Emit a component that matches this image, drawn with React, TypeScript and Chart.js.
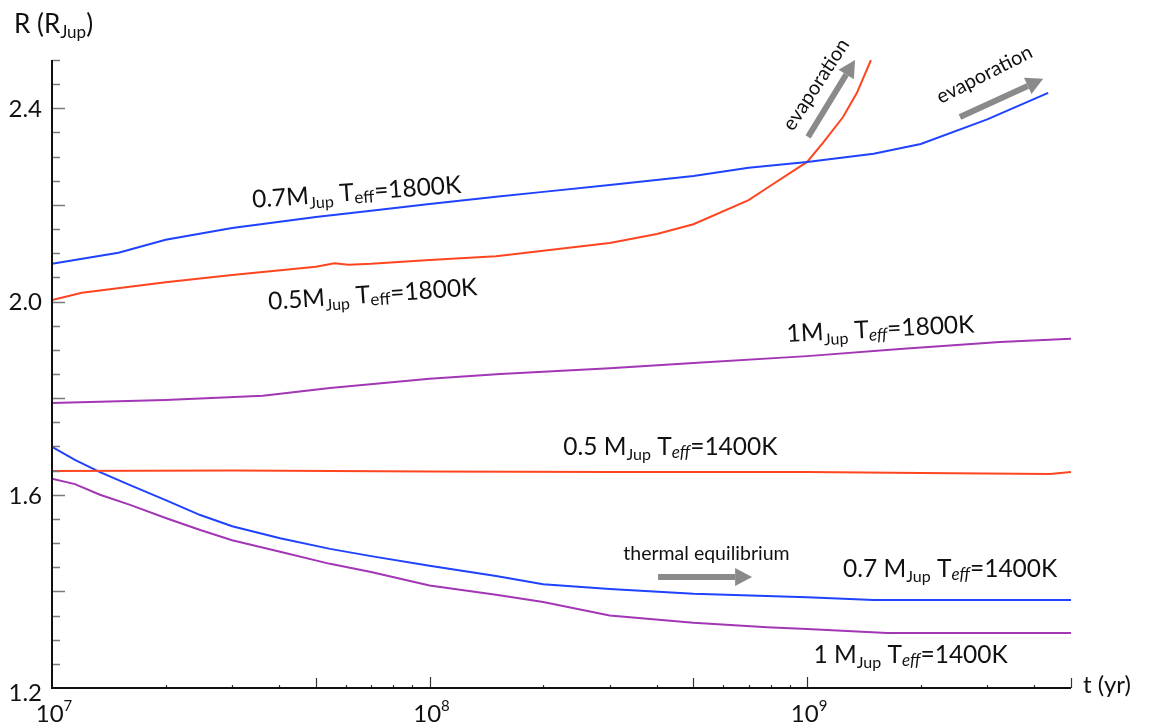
import React, { useEffect, useRef } from "react";
import { Chart, registerables } from "chart.js";

Chart.register(...registerables);

// ---------- data (t in yr, R in R_Jup) ----------
const T_07_1800 = [1e7, 1.5e7, 2e7, 3e7, 5e7, 7e7, 1e8, 1.5e8, 2e8, 3e8, 5e8, 7e8, 1e9, 1.5e9, 2e9, 3e9, 4.35e9];
const R_07_1800 = [2.078, 2.101, 2.128, 2.152, 2.175, 2.188, 2.202, 2.217, 2.227, 2.241, 2.26, 2.277, 2.289, 2.306, 2.326, 2.377, 2.432];

const T_05_1800 = [1e7, 1.2e7, 2e7, 3e7, 5e7, 5.6e7, 6.1e7, 7e7, 1e8, 1.5e8, 2e8, 3e8, 4e8, 5e8, 7e8, 7.83e8, 1e9, 1.1e9, 1.245e9, 1.355e9, 1.476e9];
const R_05_1800 = [2.003, 2.018, 2.04, 2.055, 2.072, 2.079, 2.076, 2.078, 2.086, 2.094, 2.105, 2.121, 2.14, 2.16, 2.21, 2.235, 2.289, 2.328, 2.382, 2.432, 2.5];

const T_1_1800 = [1e7, 2e7, 3.62e7, 5.45e7, 1e8, 1.54e8, 3e8, 5e8, 1e9, 1.76e9, 3.24e9, 5e9];
const R_1_1800 = [1.79, 1.796, 1.805, 1.821, 1.84, 1.85, 1.862, 1.873, 1.887, 1.902, 1.916, 1.923];

const T_05_1400 = [1e7, 3e7, 1e8, 3e8, 1e9, 2e9, 4.4e9, 5e9];
const R_05_1400 = [1.649, 1.65, 1.648, 1.647, 1.647, 1.645, 1.643, 1.647];

const T_07_1400 = [1e7, 1.15e7, 1.34e7, 1.61e7, 2e7, 2.47e7, 3e7, 4.02e7, 5.45e7, 7e7, 1e8, 1.5e8, 2e8, 3e8, 5e8, 1e9, 1.5e9, 5e9];
const R_07_1400 = [1.699, 1.672, 1.647, 1.62, 1.589, 1.558, 1.535, 1.51, 1.488, 1.473, 1.453, 1.432, 1.415, 1.405, 1.395, 1.388, 1.382, 1.382];

const T_1_1400 = [1e7, 1.15e7, 1.34e7, 1.61e7, 2e7, 2.47e7, 3e7, 4.02e7, 5.45e7, 7e7, 1e8, 1.5e8, 2e8, 3e8, 5e8, 7.83e8, 1e9, 1.63e9, 5e9];
const R_1_1400 = [1.633, 1.622, 1.6, 1.579, 1.552, 1.527, 1.506, 1.482, 1.457, 1.44, 1.412, 1.393, 1.378, 1.35, 1.335, 1.326, 1.322, 1.314, 1.314];

const Y_TICK_VALUES = [1.2, 1.6, 2.0, 2.4];
const Y_TICK_LABELS = ["1.2", "1.6", "2.0", "2.4"];
const X_TICK_EXPONENTS = [7, 8, 9];

const X_MIN = 1e7;
const X_MAX = 5e9;
const Y_MIN = 1.2;
const Y_MAX = 2.5;

// curve labels: mass, temperature, anchor (t, R), rotation (deg), italic "eff"
const LABEL_MASS = ["0.7", "0.5", "1", "0.5 ", "0.7 ", "1 "];
const LABEL_TEMP = ["1800K", "1800K", "1800K", "1400K", "1400K", "1400K"];
const LABEL_T = [3.4e7, 3.75e7, 8.85e8, 2.26e8, 1.245e9, 1.04e9];
const LABEL_R = [2.194, 1.983, 1.916, 1.682, 1.43, 1.252];
const LABEL_ANGLE = [-4.1, -4, -3, 0, 0, 0];
const LABEL_ITALIC = [false, false, true, true, true, true];

const BLUE = "#1f42ff";
const RED = "#ff4520";
const PURPLE = "#a236b4";
const GRAY = "#8a8a8a";
const FONT = "Lato, 'Open Sans', sans-serif";

const pts = (t: number[], r: number[]) => t.map((x, i) => ({ x, y: r[i] }));

type Part = { text: string; size: number; dy?: number; italic?: boolean };

function drawRich(ctx: CanvasRenderingContext2D, parts: Part[], x: number, y: number, angle: number) {
  ctx.save();
  ctx.translate(x, y);
  ctx.rotate((angle * Math.PI) / 180);
  ctx.textAlign = "left";
  ctx.textBaseline = "alphabetic";
  ctx.fillStyle = "#111";
  let cx = 0;
  for (const p of parts) {
    ctx.font = `${p.italic ? "italic " : ""}${p.size}px ${FONT}`;
    ctx.fillText(p.text, cx, p.dy || 0);
    cx += ctx.measureText(p.text).width;
  }
  ctx.restore();
}

function drawArrow(ctx: CanvasRenderingContext2D, x1: number, y1: number, x2: number, y2: number) {
  const ang = Math.atan2(y2 - y1, x2 - x1);
  const head = 17;
  const half = 9;
  const bx = x2 - head * Math.cos(ang);
  const by = y2 - head * Math.sin(ang);
  ctx.save();
  ctx.strokeStyle = GRAY;
  ctx.fillStyle = GRAY;
  ctx.lineWidth = 6;
  ctx.lineCap = "butt";
  ctx.beginPath();
  ctx.moveTo(x1, y1);
  ctx.lineTo(bx, by);
  ctx.stroke();
  ctx.beginPath();
  ctx.moveTo(x2, y2);
  ctx.lineTo(bx + half * Math.sin(ang), by - half * Math.cos(ang));
  ctx.lineTo(bx - half * Math.sin(ang), by + half * Math.cos(ang));
  ctx.closePath();
  ctx.fill();
  ctx.restore();
}

const decorPlugin = {
  id: "decor",
  afterDraw(chart: any) {
    const ctx: CanvasRenderingContext2D = chart.ctx;
    const xs = chart.scales.x;
    const ys = chart.scales.y;
    const X = (v: number) => xs.getPixelForValue(v);
    const Y = (v: number) => ys.getPixelForValue(v);
    const left = X(X_MIN);
    const right = X(X_MAX);
    const top = Y(Y_MAX);
    const bottom = Y(Y_MIN);

    ctx.save();
    // y ticks
    ctx.strokeStyle = "#7a7a7a";
    ctx.lineWidth = 1.5;
    for (let i = 1; i <= 26; i++) {
      const v = Y_MIN + i * 0.05;
      const major = i % 4 === 0;
      const py = Math.round(Y(v)) + 0.5;
      ctx.beginPath();
      ctx.moveTo(left, py);
      ctx.lineTo(left + (major ? 13 : 8), py);
      ctx.stroke();
    }
    // x ticks
    ctx.strokeStyle = "#333";
    ctx.lineWidth = 1.2;
    for (let e = 7; e <= 9; e++) {
      for (let m = 1; m <= 9; m++) {
        const v = m * Math.pow(10, e);
        if (v <= X_MIN || v > X_MAX) continue;
        const len = m === 1 ? 11 : m === 5 ? 10 : 3;
        const px = Math.round(X(v)) + 0.5;
        ctx.beginPath();
        ctx.moveTo(px, bottom);
        ctx.lineTo(px, bottom - len);
        ctx.stroke();
      }
    }
    // axes lines
    ctx.strokeStyle = "#111";
    ctx.lineWidth = 2;
    ctx.beginPath();
    ctx.moveTo(left, top);
    ctx.lineTo(left, bottom);
    ctx.lineTo(right, bottom);
    ctx.stroke();

    // y tick labels
    ctx.fillStyle = "#111";
    ctx.font = `24px ${FONT}`;
    ctx.textAlign = "right";
    ctx.textBaseline = "middle";
    Y_TICK_VALUES.forEach((v, i) => {
      ctx.fillText(Y_TICK_LABELS[i], left - 10, Y(v) + (i === 0 ? 5 : 1));
    });
    // x tick labels 10^n
    X_TICK_EXPONENTS.forEach((e) => {
      const px = X(Math.pow(10, e));
      ctx.font = `24px ${FONT}`;
      const w1 = ctx.measureText("10").width;
      ctx.font = `15px ${FONT}`;
      const w2 = ctx.measureText(String(e)).width;
      const x0 = px - (w1 + w2) / 2 + 2;
      drawRich(ctx, [{ text: "10", size: 24 }, { text: String(e), size: 15, dy: -11 }], x0, bottom + 34, 0);
    });
    // axis titles
    drawRich(ctx, [{ text: "R (R", size: 26 }, { text: "Jup", size: 17, dy: 5 }, { text: ")", size: 26 }], 14, 33, 0);
    drawRich(ctx, [{ text: "t (yr)", size: 24 }], right + 12, bottom + 5, 0);

    // curve labels
    LABEL_MASS.forEach((m, i) => {
      const parts: Part[] = [
        { text: m + "M", size: 24.5 },
        { text: "Jup", size: 16, dy: 5 },
        { text: " T", size: 24.5 },
        { text: "eff", size: 17, dy: 3, italic: LABEL_ITALIC[i] },
        { text: "=" + LABEL_TEMP[i], size: 24.5 },
      ];
      drawRich(ctx, parts, X(LABEL_T[i]), Y(LABEL_R[i]), LABEL_ANGLE[i]);
    });

    // thermal equilibrium
    drawRich(ctx, [{ text: "thermal equilibrium", size: 19.5 }], X(3.26e8), Y(1.465), 0);
    drawArrow(ctx, X(4.03e8), Y(1.43), X(7.15e8), Y(1.43));

    // evaporation labels + arrows
    drawRich(ctx, [{ text: "evaporation", size: 20 }], X(9.18e8), Y(2.351), -57);
    drawArrow(ctx, X(1.006e9), Y(2.341), X(1.34e9), Y(2.5));
    drawRich(ctx, [{ text: "evaporation", size: 20 }], X(2.26e9), Y(2.409), -27);
    drawArrow(ctx, X(2.54e9), Y(2.382), X(4.22e9), Y(2.461));
    ctx.restore();
  },
};

export default function App() {
  const ref = useRef<HTMLCanvasElement | null>(null);
  useEffect(() => {
    if (!ref.current) return;
    const ds = (t: number[], r: number[], c: string) => ({
      data: pts(t, r),
      borderColor: c,
      backgroundColor: c,
      borderWidth: 2,
      pointRadius: 0,
      tension: 0,
      fill: false,
    });
    const chart = new Chart(ref.current, {
      type: "line",
      data: {
        datasets: [
          ds(T_07_1800, R_07_1800, BLUE),
          ds(T_05_1800, R_05_1800, RED),
          ds(T_1_1800, R_1_1800, PURPLE),
          ds(T_05_1400, R_05_1400, RED),
          ds(T_07_1400, R_07_1400, BLUE),
          ds(T_1_1400, R_1_1400, PURPLE),
        ],
      },
      options: {
        responsive: false,
        animation: false,
        devicePixelRatio: 1,
        layout: { padding: { left: 52, right: 80, top: 60, bottom: 40 } },
        plugins: { legend: { display: false }, tooltip: { enabled: false } },
        scales: {
          x: { type: "logarithmic", min: X_MIN, max: X_MAX, display: false },
          y: { type: "linear", min: Y_MIN, max: Y_MAX, display: false },
        },
      },
      plugins: [decorPlugin],
    } as any);
    return () => chart.destroy();
  }, []);
  return (
    <div style={{ position: "absolute", left: 0, top: 0, width: 1151, height: 728, background: "#fff" }}>
      <canvas ref={ref} width={1151} height={728} />
    </div>
  );
}
